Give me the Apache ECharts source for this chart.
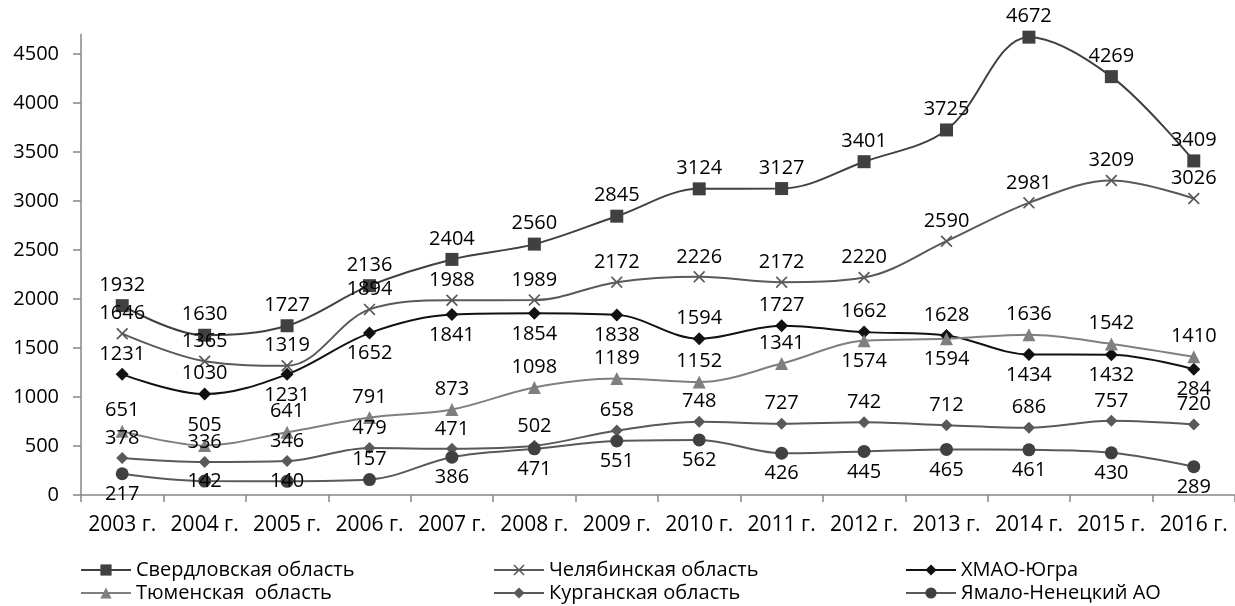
<!DOCTYPE html>
<html>
<head>
<meta charset="utf-8">
<script src="https://cdn.jsdelivr.net/npm/echarts@6/dist/echarts.min.js"></script>
<style>
  html, body { margin: 0; padding: 0; background: #fff; }
  #chart { width: 1235px; height: 606px; }
</style>
</head>
<body>
<div id="chart"></div>
<script>
    var years = ['2003 г.', '2004 г.', '2005 г.', '2006 г.', '2007 г.', '2008 г.', '2009 г.',
                 '2010 г.', '2011 г.', '2012 г.', '2013 г.', '2014 г.', '2015 г.', '2016 г.'];
    var yTicks = [0, 500, 1000, 1500, 2000, 2500, 3000, 3500, 4000, 4500];

    var sverdlovsk = [1932, 1630, 1727, 2136, 2404, 2560, 2845, 3124, 3127, 3401, 3725, 4672, 4269, 3409];
    var chelyabinsk = [1646, 1365, 1319, 1894, 1988, 1989, 2172, 2226, 2172, 2220, 2590, 2981, 3209, 3026];
    var hmao = [1231, 1030, 1231, 1652, 1841, 1854, 1838, 1594, 1727, 1662, 1628, 1434, 1432, 1284];
    var tyumen = [651, 505, 641, 791, 873, 1098, 1189, 1152, 1341, 1574, 1594, 1636, 1542, 1410];
    var kurgan = [378, 336, 346, 479, 471, 502, 658, 748, 727, 742, 712, 686, 757, 720];
    var yamal = [217, 142, 140, 157, 386, 471, 551, 562, 426, 445, 465, 461, 430, 289];

    // где стоят подписи (как в исходной диаграмме)
    var T = 'top', B = 'bottom', C = 'inside';
    var hmaoLabelPos = [T, T, B, B, B, B, B, T, T, T, T, B, B, B];
    var tyumenLabelPos = [T, T, T, T, T, T, T, T, T, B, B, T, T, T];
    var yamalLabelPos = [B, C, C, T, B, B, B, B, B, B, B, B, B, B];
    // в оригинале у последней точки ХМАО подпись "284"
    var hmaoLabelText = {13: '284'};

    var FONT = '"Open Sans", "Noto Sans", sans-serif';
    var crossPath = 'path://M0,1L1,0L5,4L9,0L10,1L6,5L10,9L9,10L5,6L1,10L0,9L4,5Z';

    function build_data(values, positions, texts) {
        return values.map(function (v, i) {
            var item = {value: v};
            var lbl = {};
            if (positions) lbl.position = positions[i];
            if (texts && texts[i] !== undefined) lbl.formatter = texts[i];
            item.label = lbl;
            return item;
        });
    }

    function make_series(name, values, color, lineColor, symbol, size, positions, texts) {
        return {
            name: name,
            type: 'line',
            smooth: 0.35,
            data: build_data(values, positions, texts),
            symbol: symbol,
            symbolSize: size,
            showAllSymbol: true,
            itemStyle: {color: color},
            lineStyle: {color: lineColor, width: 2},
            label: {
                show: true,
                position: 'top',
                distance: 4,
                color: '#000',
                fontSize: 20,
                fontFamily: FONT
            },
            emphasis: {disabled: true},
            animation: false
        };
    }

    var myChart = echarts.init(document.getElementById('chart'));

    var legendText = {color: '#000', fontSize: 20, fontFamily: FONT};
    function make_legend(left, names) {
        return {
            orient: 'vertical',
            left: left,
            top: 560,
            itemWidth: 50,
            itemHeight: 14,
            itemGap: 3,
            padding: 0,
            textStyle: legendText,
            data: names
        };
    }

    option = {
        backgroundColor: '#fff',
        animation: false,
        grid: {
            left: 81,
            right: -5,
            top: 34.4,
            bottom: 111
        },
        legend: [
            make_legend(80, ['Свердловская область', 'Тюменская  область']),
            make_legend(493, ['Челябинская область', 'Курганская область']),
            make_legend(905, ['ХМАО-Югра', 'Ямало-Ненецкий АО'])
        ],
        xAxis: {
            type: 'category',
            data: years,
            boundaryGap: true,
            axisLine: {lineStyle: {color: '#868686', width: 1.5}},
            axisTick: {show: true, length: 7, lineStyle: {color: '#868686', width: 1.5}},
            axisLabel: {
                interval: 0,
                margin: 20,
                color: '#000',
                fontSize: 21,
                fontFamily: FONT
            }
        },
        yAxis: {
            type: 'value',
            min: 0,
            max: 4700,
            interval: 500,
            splitLine: {show: false},
            axisLine: {show: true, lineStyle: {color: '#868686', width: 1.5}},
            axisTick: {show: true, length: 8, customValues: yTicks, lineStyle: {color: '#868686', width: 1.5}},
            axisLabel: {
                customValues: yTicks,
                formatter: function (v) { return String(v); },
                margin: 22,
                color: '#000',
                fontSize: 20,
                fontFamily: FONT
            }
        },
        series: [
            make_series('Свердловская область', sverdlovsk, '#404040', '#404040', 'rect', 13),
            make_series('Челябинская область', chelyabinsk, '#595959', '#595959', crossPath, 12),
            make_series('ХМАО-Югра', hmao, '#111111', '#111111', 'diamond', 13, hmaoLabelPos, hmaoLabelText),
            make_series('Тюменская  область', tyumen, '#7f7f7f', '#7f7f7f', 'triangle', 13, tyumenLabelPos),
            make_series('Курганская область', kurgan, '#595959', '#595959', 'diamond', 12),
            make_series('Ямало-Ненецкий АО', yamal, '#404040', '#595959', 'circle', 13, yamalLabelPos)
        ]
    };
    myChart.setOption(option);
</script>
</body>
</html>
